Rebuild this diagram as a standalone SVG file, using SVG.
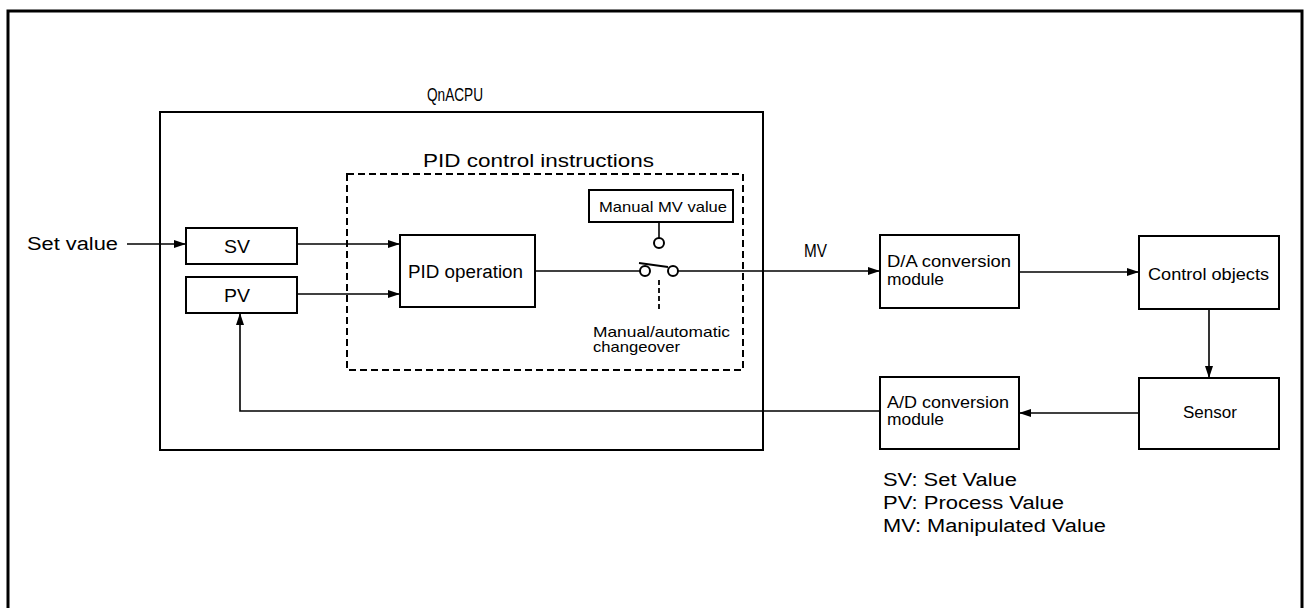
<svg xmlns="http://www.w3.org/2000/svg" width="1305" height="608" viewBox="0 0 1305 608">
<style>
text{font-family:"Liberation Sans",Arial,sans-serif;fill:#000}
.box{fill:#fff;stroke:#000;stroke-width:2}
.ln{fill:none;stroke:#000;stroke-width:1.6}
.t19{font-size:19px}
.t18{font-size:18px}
.t16{font-size:16px}
.t15{font-size:15px}
</style>
<defs>
<marker id="ah" viewBox="0 0 12 8" refX="12" refY="4" markerWidth="12" markerHeight="8" markerUnits="userSpaceOnUse" orient="auto">
<path d="M0,0 L12,4 L0,8 z" fill="#000"/>
</marker>
</defs>
<rect width="1305" height="608" fill="#fff"/>
<g id="frame"><rect x="8" y="11" width="1294" height="605" fill="none" stroke="#000" stroke-width="3"/></g>

<g id="qnacpu">
<rect class="box" x="160" y="112" width="603" height="338" fill="none"/>
<text class="t18" x="427" y="101" textLength="56" lengthAdjust="spacingAndGlyphs">QnACPU</text>
</g>

<g id="pid-instructions">
<rect x="347" y="174" width="396" height="196" fill="none" stroke="#000" stroke-width="2" stroke-dasharray="7,4"/>
<text class="t19" x="423" y="167" textLength="231" lengthAdjust="spacingAndGlyphs">PID control instructions</text>
</g>

<g id="setvalue-label"><text class="t18" x="27" y="250" textLength="91" lengthAdjust="spacingAndGlyphs">Set value</text></g>

<g id="sv"><rect class="box" x="186" y="228" width="111" height="36"/>
<text class="t18" x="224" y="253" textLength="26" lengthAdjust="spacingAndGlyphs">SV</text></g>

<g id="pv"><rect class="box" x="186" y="277" width="111" height="36"/>
<text class="t18" x="224" y="302" textLength="26" lengthAdjust="spacingAndGlyphs">PV</text></g>

<g id="pid-op"><rect class="box" x="400" y="235" width="135" height="72"/>
<text class="t18" x="408" y="278" textLength="115" lengthAdjust="spacingAndGlyphs">PID operation</text></g>

<g id="manual-mv"><rect class="box" x="589" y="190" width="144" height="32"/>
<text class="t15" x="599" y="212" textLength="128" lengthAdjust="spacingAndGlyphs">Manual MV value</text></g>

<g id="switch">
<circle cx="659" cy="243" r="5" fill="#fff" stroke="#000" stroke-width="2"/>
<circle cx="645" cy="271" r="5" fill="#fff" stroke="#000" stroke-width="2"/>
<circle cx="673" cy="271" r="5" fill="#fff" stroke="#000" stroke-width="2"/>
<line x1="639" y1="263" x2="668" y2="267" stroke="#000" stroke-width="1.8"/>
<line x1="659" y1="280" x2="659" y2="309" stroke="#000" stroke-width="1.8" stroke-dasharray="5,3"/>
<text class="t15" x="593" y="337" textLength="137" lengthAdjust="spacingAndGlyphs">Manual/automatic</text>
<text class="t15" x="593" y="352" textLength="87" lengthAdjust="spacingAndGlyphs">changeover</text>
</g>

<g id="da"><rect class="box" x="880" y="235" width="139" height="73"/>
<text class="t16" x="887" y="267" textLength="124" lengthAdjust="spacingAndGlyphs">D/A conversion</text>
<text class="t16" x="887" y="285" textLength="57" lengthAdjust="spacingAndGlyphs">module</text></g>

<g id="control"><rect class="box" x="1139" y="236" width="140" height="73"/>
<text class="t16" x="1148" y="280" textLength="121" lengthAdjust="spacingAndGlyphs">Control objects</text></g>

<g id="sensor"><rect class="box" x="1139" y="378" width="140" height="71"/>
<text class="t16" x="1183" y="418" textLength="54" lengthAdjust="spacingAndGlyphs">Sensor</text></g>

<g id="ad"><rect class="box" x="880" y="377" width="139" height="72"/>
<text class="t16" x="887" y="408" textLength="122" lengthAdjust="spacingAndGlyphs">A/D conversion</text>
<text class="t16" x="887" y="425" textLength="57" lengthAdjust="spacingAndGlyphs">module</text></g>

<g id="mv-label"><text class="t18" x="804" y="257" textLength="23" lengthAdjust="spacingAndGlyphs">MV</text></g>

<g id="legend">
<text class="t18" x="883" y="486" textLength="134" lengthAdjust="spacingAndGlyphs">SV: Set Value</text>
<text class="t18" x="883" y="509" textLength="181" lengthAdjust="spacingAndGlyphs">PV: Process Value</text>
<text class="t18" x="883" y="532" textLength="223" lengthAdjust="spacingAndGlyphs">MV: Manipulated Value</text>
</g>

<g id="connectors">
<line class="ln" x1="127" y1="244" x2="186" y2="244" marker-end="url(#ah)"/>
<line class="ln" x1="297" y1="244" x2="400" y2="244" marker-end="url(#ah)"/>
<line class="ln" x1="297" y1="294" x2="400" y2="294" marker-end="url(#ah)"/>
<line class="ln" x1="535" y1="271" x2="640" y2="271"/>
<line class="ln" x1="659" y1="222" x2="659" y2="238"/>
<line class="ln" x1="678" y1="271" x2="880" y2="271" marker-end="url(#ah)"/>
<line class="ln" x1="1019" y1="272" x2="1139" y2="272" marker-end="url(#ah)"/>
<line class="ln" x1="1209" y1="309" x2="1209" y2="378" marker-end="url(#ah)"/>
<line class="ln" x1="1139" y1="413" x2="1019" y2="413" marker-end="url(#ah)"/>
<polyline class="ln" points="880,411 240,411 240,313" marker-end="url(#ah)"/>
</g>
</svg>
